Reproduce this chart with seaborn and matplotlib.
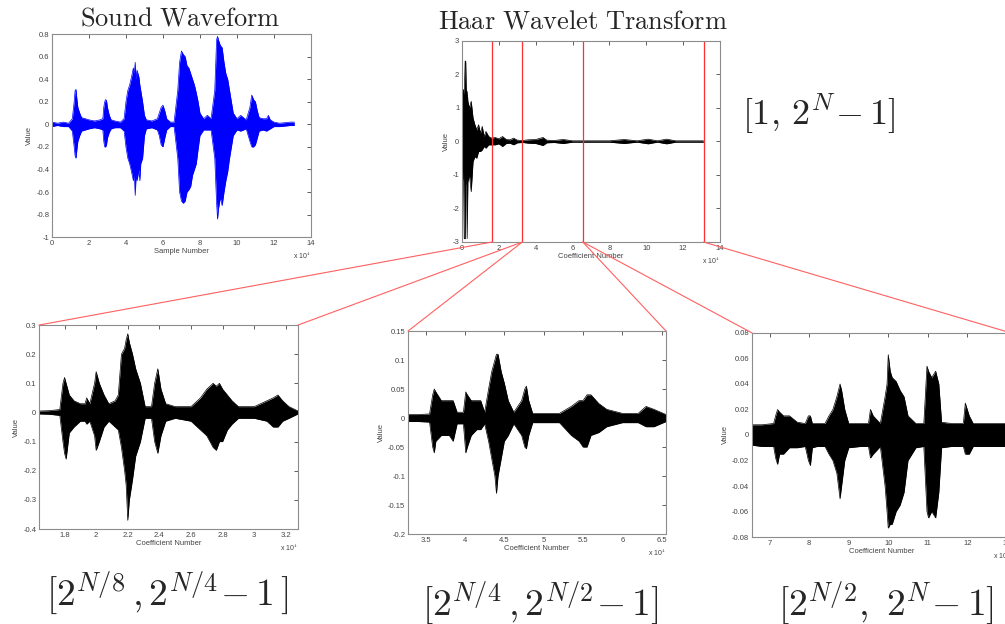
import matplotlib
matplotlib.use("Agg")
import matplotlib.pyplot as plt
from matplotlib.patches import ConnectionPatch
import seaborn as sns

# ---- data (x in units of 1e4 samples / coefficients) ----
# sound waveform envelope
sound_x = [0, 0.3, 0.6, 0.9, 1.1, 1.2, 1.25, 1.3, 1.35, 1.4, 1.5, 1.6, 1.8, 2.0, 2.3, 2.6,
           2.75, 2.8, 2.85, 2.9, 2.95, 3.0, 3.1, 3.2, 3.4, 3.7, 3.9,
           4.0, 4.1, 4.2, 4.3, 4.4, 4.45, 4.5, 4.55, 4.6, 4.7, 4.75, 4.8, 4.9, 5.0, 5.1, 5.4, 5.7,
           5.8, 5.9, 6.0, 6.1, 6.2, 6.4, 6.6,
           6.8, 6.9, 7.0, 7.1, 7.2, 7.3, 7.4, 7.5, 7.6, 7.7, 7.8, 7.9, 8.0, 8.2, 8.4, 8.6,
           8.8, 8.9, 8.95, 9.0, 9.1, 9.2, 9.3, 9.4, 9.5, 9.6, 9.7, 9.8, 10.0, 10.2, 10.5,
           10.7, 10.8, 10.9, 11.0, 11.1, 11.2, 11.4, 11.6, 11.7, 11.8, 12.0, 12.3, 12.6, 12.9, 13.1]
sound_up = [0.02, 0.01, 0.02, 0.01, 0.05, 0.2, 0.3, 0.31, 0.22, 0.15, 0.1, 0.06, 0.05, 0.04, 0.03, 0.04,
            0.05, 0.15, 0.2, 0.22, 0.21, 0.15, 0.08, 0.04, 0.03, 0.02, 0.05,
            0.2, 0.3, 0.35, 0.42, 0.5, 0.45, 0.55, 0.4, 0.48, 0.42, 0.35, 0.3, 0.2, 0.08, 0.04, 0.03, 0.05,
            0.1, 0.15, 0.17, 0.12, 0.05, 0.02, 0.02,
            0.3, 0.55, 0.65, 0.62, 0.6, 0.52, 0.5, 0.45, 0.4, 0.35, 0.28, 0.2, 0.1, 0.05, 0.08, 0.05,
            0.3, 0.75, 0.78, 0.75, 0.7, 0.68, 0.55, 0.45, 0.4, 0.3, 0.2, 0.1, 0.05, 0.08, 0.04,
            0.15, 0.26, 0.22, 0.2, 0.12, 0.06, 0.05, 0.05, 0.08, 0.04, 0.02, 0.01, 0.015, 0.02, 0.02]
sound_lo = [-0.02, -0.01, -0.02, -0.02, -0.06, -0.2, -0.28, -0.3, -0.22, -0.15, -0.1, -0.06, -0.05, -0.04, -0.03, -0.04,
            -0.05, -0.15, -0.2, -0.2, -0.18, -0.12, -0.07, -0.04, -0.03, -0.03, -0.06,
            -0.2, -0.3, -0.35, -0.42, -0.5, -0.45, -0.63, -0.45, -0.5, -0.4, -0.5, -0.35, -0.3, -0.1, -0.04, -0.03, -0.05,
            -0.1, -0.18, -0.2, -0.12, -0.05, -0.02, -0.02,
            -0.3, -0.6, -0.68, -0.7, -0.68, -0.6, -0.58, -0.55, -0.45, -0.4, -0.35, -0.22, -0.1, -0.05, -0.05, -0.05,
            -0.3, -0.7, -0.84, -0.75, -0.65, -0.72, -0.6, -0.5, -0.42, -0.3, -0.2, -0.1, -0.05, -0.06, -0.04,
            -0.15, -0.2, -0.2, -0.18, -0.12, -0.06, -0.05, -0.06, -0.05, -0.04, -0.02, -0.02, -0.015, -0.01, -0.01]

# full haar transform envelope
haar_x = [0.0, 0.03, 0.08, 0.12, 0.17, 0.2, 0.24, 0.28, 0.32, 0.4, 0.5, 0.6, 0.7, 0.8, 0.9, 1.0,
          1.1, 1.2, 1.3, 1.45, 1.6, 1.8, 2.0, 2.2, 2.4, 2.6, 2.8, 3.0, 3.3, 3.6, 4.0, 4.4,
          4.6, 5.0, 5.5, 6.0, 6.5, 7.0, 8.0, 8.8, 9.5, 10.1, 10.6, 11.1, 11.6, 12.5, 13.1]
haar_up = [1.6, 1.5, 1.55, 1.4, 2.4, 2.4, 1.3, 1.5, 1.2, 1.0, 1.2, 0.7, 0.5, 0.35, 0.5, 0.25,
           0.45, 0.15, 0.3, 0.15, 0.1, 0.12, 0.08, 0.15, 0.06, 0.05, 0.1, 0.04, 0.03, 0.05, 0.06, 0.12,
           0.04, 0.03, 0.06, 0.02, 0.02, 0.02, 0.02, 0.06, 0.02, 0.07, 0.02, 0.07, 0.02, 0.02, 0.02]
haar_lo = [-1.0, -1.2, -0.9, -2.9, -2.9, -1.3, -1.1, -2.9, -1.2, -1.0, -1.5, -0.6, -0.45, -0.5, -0.3, -0.3,
           -0.25, -0.15, -0.2, -0.1, -0.1, -0.1, -0.07, -0.15, -0.06, -0.05, -0.1, -0.04, -0.03, -0.05, -0.06, -0.12,
           -0.04, -0.03, -0.06, -0.02, -0.02, -0.02, -0.02, -0.06, -0.02, -0.07, -0.02, -0.07, -0.02, -0.02, -0.02]
band_edges = [1.6384, 3.2768, 6.5536, 13.1072]

# band [2^(N/8), 2^(N/4)-1]
b1_x = [1.6384, 1.70, 1.77, 1.79, 1.80, 1.81, 1.83, 1.86, 1.90, 1.93, 1.94, 1.96, 1.99, 2.00, 2.02, 2.05, 2.08,
        2.12, 2.14, 2.16, 2.18, 2.19, 2.20, 2.21, 2.23, 2.25, 2.28, 2.31, 2.35, 2.37, 2.39, 2.41, 2.44,
        2.50, 2.60, 2.66, 2.70, 2.74, 2.76, 2.78, 2.80, 2.83, 2.86, 2.90, 3.00, 3.08, 3.12, 3.15, 3.18, 3.22, 3.2768]
b1_up = [0.005, 0.006, 0.01, 0.1, 0.12, 0.1, 0.06, 0.04, 0.03, 0.03, 0.05, 0.03, 0.1, 0.14, 0.1, 0.06, 0.03,
         0.04, 0.06, 0.2, 0.22, 0.25, 0.27, 0.24, 0.2, 0.15, 0.1, 0.02, 0.02, 0.1, 0.15, 0.08, 0.03,
         0.02, 0.02, 0.05, 0.08, 0.1, 0.09, 0.1, 0.08, 0.06, 0.04, 0.02, 0.02, 0.04, 0.05, 0.06, 0.04, 0.02, 0.005]
b1_lo = [-0.005, -0.006, -0.01, -0.1, -0.14, -0.16, -0.07, -0.05, -0.03, -0.03, -0.04, -0.03, -0.08, -0.13, -0.1, -0.05, -0.03,
         -0.05, -0.06, -0.12, -0.2, -0.25, -0.37, -0.3, -0.23, -0.15, -0.1, -0.02, -0.02, -0.1, -0.14, -0.08, -0.03,
         -0.02, -0.03, -0.06, -0.08, -0.12, -0.13, -0.1, -0.1, -0.06, -0.04, -0.02, -0.02, -0.03, -0.05, -0.05, -0.03, -0.02, -0.005]

# band [2^(N/4), 2^(N/2)-1]
b2_x = [3.2768, 3.4, 3.55, 3.59, 3.61, 3.63, 3.7, 3.8, 3.85, 3.9, 3.98, 4.01, 4.03, 4.08, 4.15,
        4.2, 4.25, 4.3, 4.34, 4.38, 4.40, 4.42, 4.46, 4.5, 4.55, 4.62, 4.72, 4.76, 4.78, 4.81,
        4.86, 5.0, 5.2, 5.35, 5.45, 5.5, 5.55, 5.6, 5.7, 5.8, 6.0, 6.2, 6.3, 6.4, 6.5536]
b2_up = [0.006, 0.006, 0.007, 0.04, 0.05, 0.045, 0.03, 0.03, 0.03, 0.01, 0.01, 0.045, 0.04, 0.03, 0.03,
         0.03, 0.01, 0.05, 0.08, 0.1, 0.11, 0.11, 0.08, 0.06, 0.03, 0.01, 0.03, 0.05, 0.055, 0.03,
         0.008, 0.008, 0.008, 0.02, 0.03, 0.03, 0.04, 0.04, 0.025, 0.015, 0.008, 0.008, 0.02, 0.015, 0.006]
b2_lo = [-0.006, -0.006, -0.007, -0.05, -0.06, -0.04, -0.03, -0.03, -0.04, -0.01, -0.01, -0.06, -0.05, -0.03, -0.02,
         -0.02, -0.01, -0.04, -0.07, -0.1, -0.13, -0.1, -0.07, -0.04, -0.03, -0.01, -0.03, -0.05, -0.053, -0.03,
         -0.008, -0.008, -0.008, -0.03, -0.04, -0.05, -0.05, -0.03, -0.025, -0.015, -0.008, -0.008, -0.015, -0.015, -0.006]

# band [2^(N/2), 2^N-1]
b3_x = [6.5536, 6.8, 7.1, 7.15, 7.2, 7.25, 7.35, 7.5, 7.7, 7.9, 7.98, 8.03, 8.08, 8.2, 8.4, 8.5, 8.6,
        8.7, 8.78, 8.82, 8.9, 9.0, 9.3, 9.5, 9.55, 9.62, 9.8, 9.92, 9.97, 10.0, 10.05, 10.1, 10.2, 10.3,
        10.4, 10.5, 10.7, 10.9, 10.98, 11.02, 11.1, 11.2, 11.28, 11.35, 11.6, 11.9, 11.95, 12.05, 12.15, 12.5, 13.1072]
b3_up = [0.008, 0.008, 0.009, 0.015, 0.02, 0.018, 0.015, 0.015, 0.01, 0.009, 0.015, 0.015, 0.009, 0.009, 0.009, 0.015, 0.02,
         0.03, 0.04, 0.035, 0.02, 0.009, 0.009, 0.009, 0.02, 0.015, 0.009, 0.03, 0.04, 0.063, 0.05, 0.045, 0.042, 0.035,
         0.03, 0.015, 0.009, 0.009, 0.054, 0.05, 0.045, 0.05, 0.04, 0.01, 0.009, 0.009, 0.025, 0.015, 0.009, 0.009, 0.009]
b3_lo = [-0.008, -0.009, -0.009, -0.018, -0.023, -0.015, -0.015, -0.01, -0.01, -0.009, -0.02, -0.024, -0.01, -0.009, -0.009, -0.015, -0.02,
         -0.03, -0.05, -0.04, -0.02, -0.01, -0.009, -0.009, -0.018, -0.015, -0.009, -0.04, -0.06, -0.073, -0.07, -0.07, -0.06, -0.055,
         -0.045, -0.02, -0.01, -0.009, -0.06, -0.065, -0.06, -0.065, -0.045, -0.01, -0.009, -0.009, -0.015, -0.015, -0.009, -0.009, -0.009]

sns.set_style("white")
plt.rcParams['font.family'] = ['Liberation Sans', 'DejaVu Sans']
plt.rcParams['mathtext.fontset'] = 'cm'

fig = plt.figure(figsize=(10.05, 6.24), dpi=100)

# axes positions (figure fraction)
ax1 = fig.add_axes([0.0517, 0.620, 0.2577, 0.3253])
ax2 = fig.add_axes([0.4597, 0.6122, 0.2567, 0.3221])
ax3 = fig.add_axes([0.0388, 0.1522, 0.2577, 0.3269])
ax4 = fig.add_axes([0.406, 0.1442, 0.2567, 0.3253])
ax5 = fig.add_axes([0.7483, 0.1394, 0.2577, 0.327])


def draw_wave(ax, x, up, lo, color):
    sns.lineplot(x=x, y=up, ax=ax, color=color, lw=0.5)
    sns.lineplot(x=x, y=lo, ax=ax, color=color, lw=0.5)
    ax.fill_between(x, lo, up, color=color, lw=0)


def style(ax, xlim, ylim, xticks, yticks, xlabel):
    ax.set_xlim(xlim)
    ax.set_ylim(ylim)
    ax.set_xticks(xticks)
    ax.set_yticks(yticks)
    ax.set_xticklabels(['%g' % t for t in xticks])
    ax.set_yticklabels(['%g' % round(t, 4) for t in yticks])
    ax.tick_params(direction='in', length=3, width=0.6, colors='#444444', labelsize=5.5,
                   top=True, right=True, pad=2)
    for s in ax.spines.values():
        s.set_color('#8c8c8c')
        s.set_linewidth(0.8)
    ax.set_xlabel(xlabel, fontsize=5.5, color='#444444', labelpad=1)
    ax.set_ylabel('Value', fontsize=5.5, color='#444444', labelpad=2)
    ax.text(1.0, -0.093, r'x 10$^4$', transform=ax.transAxes, ha='right', va='center',
            fontsize=5, color='#444444')


draw_wave(ax1, sound_x, sound_up, sound_lo, '#0000ff')
style(ax1, (0, 14), (-1, 0.8), list(range(0, 15, 2)),
      [-1, -0.8, -0.6, -0.4, -0.2, 0, 0.2, 0.4, 0.6, 0.8], 'Sample Number')

draw_wave(ax2, haar_x, haar_up, haar_lo, 'black')
style(ax2, (0, 14), (-3, 3), list(range(0, 15, 2)), [-3, -2, -1, 0, 1, 2, 3], 'Coefficient Number')
for e in band_edges:
    ax2.axvline(e, color='#ff3030', lw=0.9)

draw_wave(ax3, b1_x, b1_up, b1_lo, 'black')
style(ax3, (band_edges[0], band_edges[1]), (-0.4, 0.3), [1.8, 2, 2.2, 2.4, 2.6, 2.8, 3, 3.2],
      [-0.4, -0.3, -0.2, -0.1, 0, 0.1, 0.2, 0.3], 'Coefficient Number')

draw_wave(ax4, b2_x, b2_up, b2_lo, 'black')
style(ax4, (band_edges[1], band_edges[2]), (-0.2, 0.15), [3.5, 4, 4.5, 5, 5.5, 6, 6.5],
      [-0.2, -0.15, -0.1, -0.05, 0, 0.05, 0.1, 0.15], 'Coefficient Number')

draw_wave(ax5, b3_x, b3_up, b3_lo, 'black')
style(ax5, (band_edges[2], band_edges[3]), (-0.08, 0.08), [7, 8, 9, 10, 11, 12, 13],
      [-0.08, -0.06, -0.04, -0.02, 0, 0.02, 0.04, 0.06, 0.08], 'Coefficient Number')

# zoom connectors from the transform plot to each band
links = [(band_edges[0], ax3, (0, 1)), (band_edges[1], ax3, (1, 1)),
         (band_edges[1], ax4, (0, 1)), (band_edges[2], ax4, (1, 1)),
         (band_edges[2], ax5, (0, 1)), (band_edges[3], ax5, (1, 1))]
for xe, axb, corner in links:
    con = ConnectionPatch(xyA=(xe, -3), coordsA=ax2.transData, xyB=corner, coordsB=axb.transAxes,
                          color='#ff6060', lw=0.8)
    fig.add_artist(con)

# titles and interval labels
fig.text(0.179, 0.97, r'$\mathrm{Sound\ Waveform}$', ha='center', va='center', fontsize=19)
fig.text(0.58, 0.965, r'$\mathrm{Haar\ Wavelet\ Transform}$', ha='center', va='center', fontsize=19)
fig.text(0.815, 0.817, r'$[1,\,2^{N}\!-1]$', ha='center', va='center', fontsize=26)
fig.text(0.166, 0.05, r'$[2^{N/8}\,,2^{N/4}\!-1\,]$', ha='center', va='center', fontsize=27)
fig.text(0.538, 0.034, r'$[2^{N/4}\,,2^{N/2}\!-1]$', ha='center', va='center', fontsize=27)
fig.text(0.882, 0.034, r'$[2^{N/2},\ 2^{N}\!-1]$', ha='center', va='center', fontsize=27)

fig.savefig('out.png', dpi=100)
